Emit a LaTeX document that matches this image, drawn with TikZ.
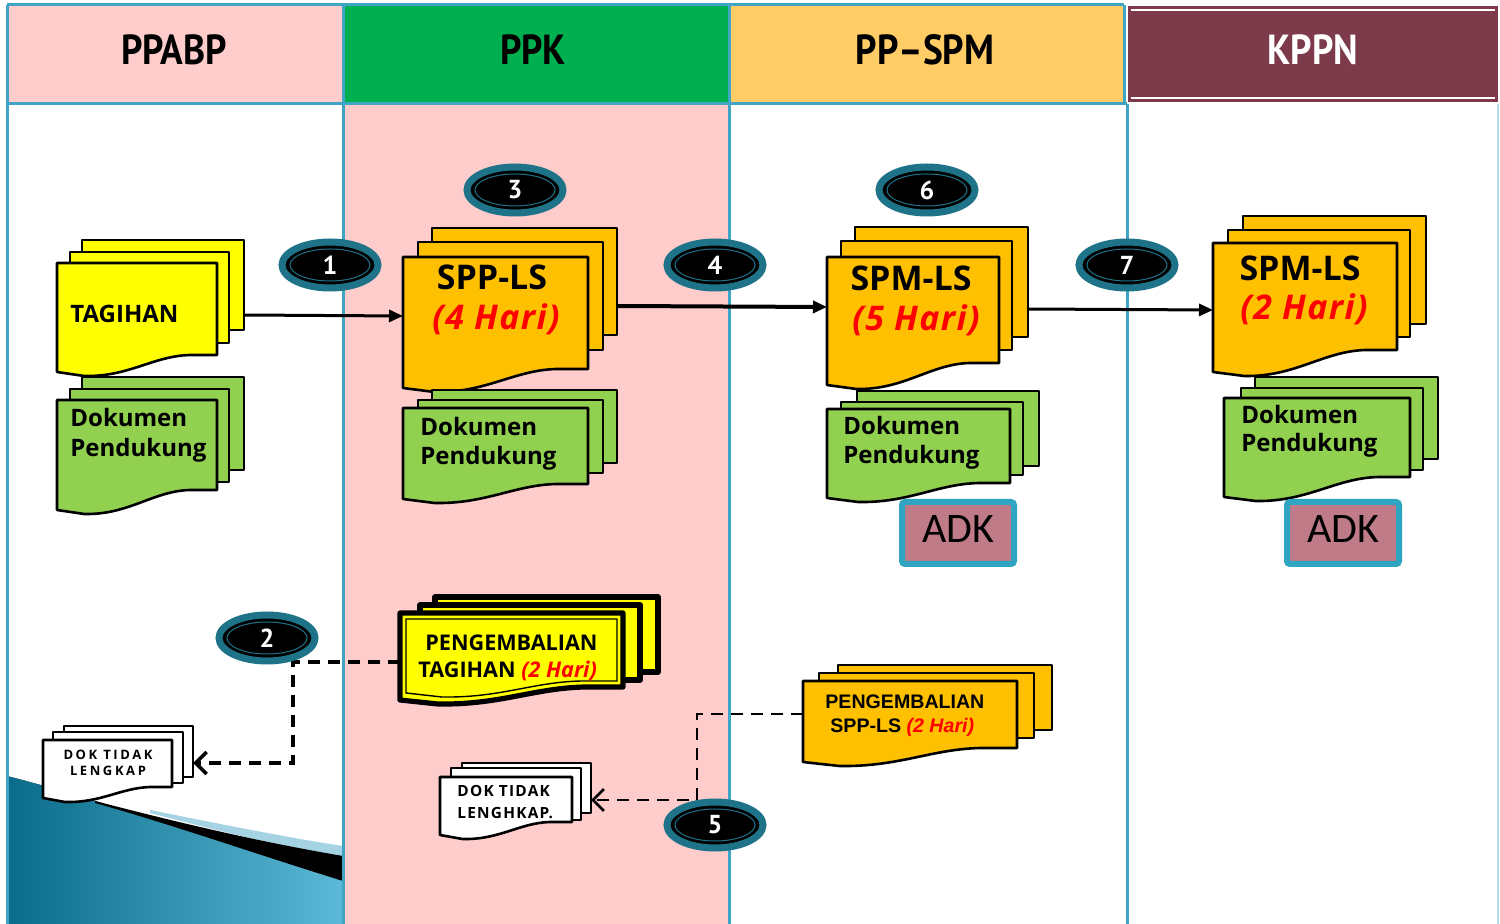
\documentclass[tikz,border=0pt]{standalone}
\usepackage{fontspec}
\setmainfont{Open Sans}
\newfontfamily\hdfont{PT Sans}
\newfontfamily\arialfont{Liberation Sans}
\newfontfamily\adkfont{Carlito}
\usetikzlibrary{shapes.geometric,arrows.meta}
\definecolor{hpink}{HTML}{FFCCCC}
\definecolor{hgreen}{HTML}{00B050}
\definecolor{hgold}{HTML}{FFCC66}
\definecolor{hmaroon}{HTML}{7D3A4A}
\definecolor{laneblue}{HTML}{3EA6C4}
\definecolor{docyellow}{HTML}{FFFF00}
\definecolor{docorange}{HTML}{FFC000}
\definecolor{docgreen}{HTML}{92D050}
\definecolor{adkfill}{HTML}{C07B88}
\definecolor{adkline}{HTML}{30A5C2}
\definecolor{badgeteal}{HTML}{1E7389}
\definecolor{tealA}{HTML}{0A6C8A}
\definecolor{tealB}{HTML}{5BB8D6}
\definecolor{dither}{HTML}{A6D3E3}
\definecolor{hred}{HTML}{FF0000}
% #1 style, #2 left, #3 top, #4 right, #5 bottom-left y, #6 bottom-right y
\newcommand\docsheet[6]{\filldraw[#1] (#2,#3) -- (#4,#3) -- (#4,#6) -- ({#4-0.17*(#4-#2)},#6) .. controls ({#2+0.6*(#4-#2)},{#6+1}) and ({#2+0.45*(#4-#2)},{#5+5}) .. ({#2+0.17*(#4-#2)},{#5+4}) -- (#2,#5) -- cycle;}
\newcommand\backsheet[5]{\filldraw[#1] (#2,#3) rectangle (#4,#5);}
\newcommand\badgeat[3]{\node[badge] (#1) at (#2) {#3};\draw[badgeteal,line width=0.5pt] (#1.center) ellipse [x radius=20pt, y radius=8pt];}
\begin{document}
\begin{tikzpicture}[x=0.5pt,y=-0.5pt,
 sheet/.style={draw=black,line width=1.3pt,line join=round},
 boldsheet/.style={draw=black,line width=2.6pt,line join=round},
 lane/.style={draw=laneblue,line width=1.5pt},
 hdtxt/.style={font=\hdfont\bfseries\fontsize{21}{24}\selectfont, inner sep=0pt, anchor=base},
 badge/.style={ellipse, fill=black, draw=badgeteal, line width=3.5pt, minimum width=48pt, minimum height=23pt, inner sep=0pt, text=white, font=\hdfont\bfseries\fontsize{13}{15}\selectfont},
 txt/.style={inner sep=0pt, font=\bfseries\fontsize{12}{14}\selectfont, anchor=base west},
 bigtxt/.style={inner sep=0pt, font=\bfseries\fontsize{17}{20}\selectfont, anchor=base},
 redtxt/.style={inner sep=0pt, text=hred, font=\bfseries\itshape\fontsize{17}{20}\selectfont\addfontfeature{LetterSpace=4}, anchor=base},
 pgtxt/.style={inner sep=0pt, font=\bfseries\fontsize{10.8}{13}\selectfont, anchor=base west},
 pstxt/.style={inner sep=0pt, font=\arialfont\bfseries\fontsize{9.8}{12}\selectfont, anchor=base west},
 dok1txt/.style={inner sep=0pt, font=\bfseries\fontsize{6.5}{8}\selectfont\addfontfeature{LetterSpace=20}, anchor=base},
 dok2txt/.style={inner sep=0pt, font=\bfseries\fontsize{7.7}{9}\selectfont\addfontfeature{LetterSpace=8}, anchor=base west},
 flow/.style={draw=black, line width=1.5pt, -{Triangle[length=7pt,width=6pt]}},
 dashflow/.style={draw=black, line width=1.8pt, dash pattern=on 6pt off 4pt, -{Straight Barb[length=5.5pt,width=11pt]}},
 adkbox/.style={rectangle, rounded corners=1.5pt, fill=adkfill, draw=adkline, line width=3pt, minimum width=56pt, minimum height=31pt, inner sep=0pt, font=\adkfont\fontsize{21}{24}\selectfont, text height=14pt, text depth=4pt}
]
\useasboundingbox (0,0) rectangle (1500,924);
\fill[white] (0,0) rectangle (1500,924);
% body backgrounds
\fill[hpink] (343,104) rectangle (729,924);
% teal wave bottom left
\fill[left color=tealA, right color=tealB] (7,776) .. controls (120,805) and (240,850) .. (343,880) -- (343,924) -- (7,924) -- cycle;
\fill[dither] (150,810) .. controls (230,826) and (290,838) .. (343,846) -- (343,857) .. controls (260,842) and (200,826) .. (150,813) -- cycle;
\fill[black] (95,801) .. controls (180,823) and (260,842) .. (343,856) -- (343,881) .. controls (250,852) and (170,824) .. (95,803) -- cycle;
% headers
\fill[hpink] (7,5) rectangle (343,104);
\fill[hgreen] (343,5) rectangle (729,104);
\fill[hgold] (729,5) rectangle (1124,104);
\fill[hmaroon] (1128,6) rectangle (1498,102);
\draw[white,line width=1.2pt] (1131,10) -- (1495,10);
\draw[white,line width=1.2pt] (1131,98) -- (1495,98);
\draw[lane] (7,5) -- (1124,5);
\draw[lane] (7,104) -- (1127,104);
\draw[lane] (7,5) -- (7,924);
\draw[lane] (343,5) -- (343,924);
\draw[lane] (729,5) -- (729,924);
\draw[lane] (1124,5) -- (1124,104);
\draw[lane] (1127,104) -- (1127,924);
\draw[laneblue!40,line width=0.8pt] (1498,104) -- (1498,924);
\node[hdtxt] (hA) at (174,65) {\scalebox{0.89}[1]{PPABP}};
\node[hdtxt] (hB) at (533,65) {\scalebox{0.89}[1]{PPK}};
\node[hdtxt] (hC) at (925,65) {\scalebox{0.89}[1]{PP–SPM}};
\node[hdtxt,text=white] (hD) at (1313,65) {\scalebox{0.89}[1]{KPPN}};

% ---- PPABP column
\backsheet{sheet,fill=docyellow}{82}{240}{244}{330}
\backsheet{sheet,fill=docyellow}{70}{252}{229}{343}
\docsheet{sheet,fill=docyellow}{57}{263}{217}{372}{355}
\node[txt] (tTag) at (70,323) {TAGIHAN};
\backsheet{sheet,fill=docgreen}{82}{377}{244}{470}
\backsheet{sheet,fill=docgreen}{70}{389}{229}{482}
\docsheet{sheet,fill=docgreen}{57}{400}{217}{510}{490}
\node[txt] (tD1a) at (70,427) {Dokumen};
\node[txt] (tD1b) at (70,457) {Pendukung};
\backsheet{sheet,fill=white}{64}{726}{193}{777}
\backsheet{sheet,fill=white}{53}{732}{183}{783}
\docsheet{sheet,fill=white}{43}{740}{172}{798}{787}
\node[dok1txt] (tK1a) at (108,760) {DOK TIDAK};
\node[dok1txt] (tK1b) at (108,776) {LENGKAP};

% ---- PPK column
\backsheet{sheet,fill=docorange}{432}{228}{617}{335}
\backsheet{sheet,fill=docorange}{418}{242}{603}{350}
\docsheet{sheet,fill=docorange}{403}{257}{588}{388}{369}
\node[bigtxt] (tSpp) at (492,290) {SPP-LS};
\node[redtxt] (tSppH) at (496,330) {(4 Hari)};
\backsheet{sheet,fill=docgreen}{432}{390}{617}{463}
\backsheet{sheet,fill=docgreen}{418}{400}{603}{473}
\docsheet{sheet,fill=docgreen}{403}{408}{588}{499}{484}
\node[txt] (tD2a) at (420,436) {Dokumen};
\node[txt] (tD2b) at (420,465) {Pendukung};
% pengembalian tagihan
\backsheet{boldsheet,fill=docyellow}{435}{597}{658}{672}
\backsheet{boldsheet,fill=docyellow}{420}{605}{640}{680}
\docsheet{boldsheet,fill=docyellow}{400}{613}{623}{700}{687}
\docsheet{draw=black,fill=docyellow,line width=0.7pt}{406}{619}{617}{693}{681}
\node[pgtxt] (tPg1) at (425,651) {PENGEMBALIAN};
\node[pgtxt] (tPg2) at (418,678) {TAGIHAN \textcolor{hred}{\itshape (2 Hari)}};
\backsheet{sheet,fill=white}{462}{763}{591}{813}
\backsheet{sheet,fill=white}{451}{768}{581}{820}
\docsheet{sheet,fill=white}{440}{777}{572}{835}{822}
\node[dok2txt] (tK2a) at (457,797) {DOK TIDAK};
\node[dok2txt] (tK2b) at (457,819) {LENGHKAP.};

% ---- PP-SPM column
\backsheet{sheet,fill=docorange}{855}{227}{1028}{337}
\backsheet{sheet,fill=docorange}{841}{241}{1012}{350}
\docsheet{sheet,fill=docorange}{827}{257}{999}{385}{363}
\node[bigtxt] (tSpm) at (911,291) {SPM-LS};
\node[redtxt] (tSpmH) at (916,331) {(5 Hari)};
\backsheet{sheet,fill=docgreen}{857}{391}{1039}{466}
\backsheet{sheet,fill=docgreen}{841}{402}{1023}{475}
\docsheet{sheet,fill=docgreen}{827}{409}{1010}{498}{483}
\node[txt] (tD3a) at (843,435) {Dokumen};
\node[txt] (tD3b) at (843,464) {Pendukung};
\node[adkbox] (adk1) at (958,533) {ADK};
\backsheet{sheet,fill=docorange}{838}{665}{1052}{730}
\backsheet{sheet,fill=docorange}{819}{673}{1034}{738}
\docsheet{sheet,fill=docorange}{803}{681}{1017}{762}{748}
\node[pstxt] (tPs1) at (825,709) {PENGEMBALIAN};
\node[pstxt] (tPs2) at (830,733) {SPP-LS \textcolor{hred}{\itshape (2 Hari)}};

% ---- KPPN column
\backsheet{sheet,fill=docorange}{1243}{216}{1426}{324}
\backsheet{sheet,fill=docorange}{1228}{230}{1410}{337}
\docsheet{sheet,fill=docorange}{1213}{243}{1397}{372}{350}
\node[bigtxt] (tKp) at (1300,281) {SPM-LS};
\node[redtxt] (tKpH) at (1304,320) {(2 Hari)};
\backsheet{sheet,fill=docgreen}{1255}{377}{1438}{459}
\backsheet{sheet,fill=docgreen}{1241}{388}{1423}{470}
\docsheet{sheet,fill=docgreen}{1224}{398}{1410}{497}{477}
\node[txt] (tD4a) at (1241,424) {Dokumen};
\node[txt] (tD4b) at (1241,452) {Pendukung};
\node[adkbox] (adk2) at (1343,533) {ADK};

% ---- connector anchors
\coordinate (tagR) at (244,315);
\coordinate (sppL) at (403,316);
\coordinate (sppR) at (617,306);
\coordinate (spmL) at (827,307);
\coordinate (spmR) at (1028,309);
\coordinate (kpL) at (1213,310);
\coordinate (pgtL) at (400,662);
\coordinate (c2a) at (293,662);
\coordinate (c2b) at (293,763);
\coordinate (dok1R) at (193,763);
\coordinate (pgsL) at (803,714);
\coordinate (c5a) at (697,714);
\coordinate (c5b) at (697,800);
\coordinate (dok2R) at (591,800);
\draw[flow] (tagR) -- (sppL);
\draw[flow,line width=2pt] (sppR) -- (spmL);
\draw[flow] (spmR) -- (kpL);
\draw[dashflow] (pgtL) -- (c2a) -- (c2b) -- (dok1R);
\draw[dashflow,line width=1.4pt] (pgsL) -- (c5a) -- (c5b) -- (dok2R);

% ---- badges
\badgeat{b1}{330,265}{1}
\badgeat{b2}{267,638}{2}
\badgeat{b3}{515,190}{3}
\badgeat{b4}{715,265}{4}
\badgeat{b5}{715,825}{5}
\badgeat{b6}{927,190}{6}
\badgeat{b7}{1127,265}{7}
\end{tikzpicture}
\end{document}
